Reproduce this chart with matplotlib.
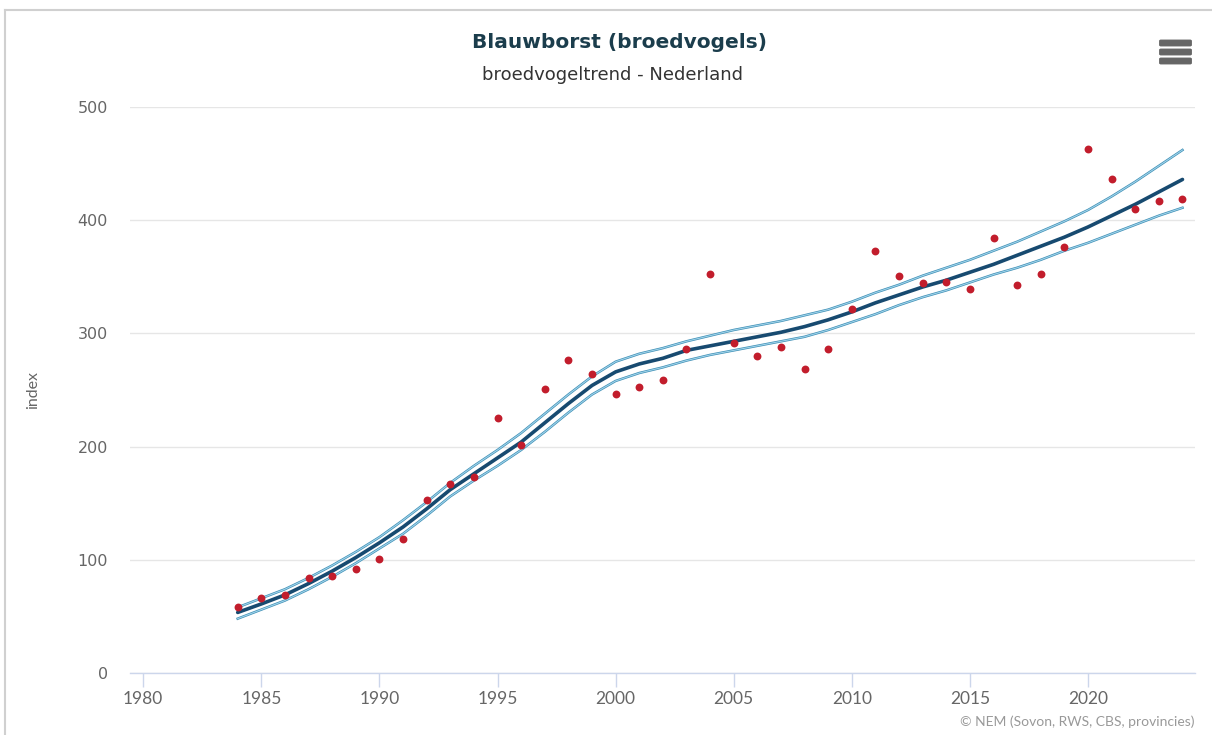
import numpy as np
import matplotlib
matplotlib.use("Agg")
import matplotlib.pyplot as plt
from matplotlib.lines import Line2D
from matplotlib.patches import FancyBboxPatch

plt.rcParams['font.family'] = ['Lato', 'DejaVu Sans']

years = list(range(1984, 2025))

# yearly index values (dots)
index_values = [58.6, 66.5, 68.9, 84.2, 85.7, 92.1, 100.4, 118.1, 153.1, 166.7,
                172.9, 225.5, 201.4, 251.2, 276.8, 264.4, 246.5, 252.7, 259.1, 286.5,
                352.5, 291.2, 280.0, 288.3, 268.8, 286.5, 321.8, 373.0, 350.7, 344.2,
                345.7, 339.5, 384.6, 343.0, 352.5, 376.6, 463.2, 436.1, 409.9, 416.7,
                418.5]

# smoothed trend with its confidence limits
trend = [53.5, 61, 69, 79, 90, 102, 115, 129, 145, 162,
         176, 190, 204, 221, 238, 254, 266, 273, 278, 285,
         289, 293, 297, 301, 306, 312, 319, 327, 334, 341,
         347, 354, 361, 369, 377, 385, 394, 404, 414, 425,
         436]
upper = [58, 66, 74, 84, 95, 107, 120, 135, 151, 168,
         183, 197, 212, 229, 246, 262, 275, 282, 287, 293,
         298, 303, 307, 311, 316, 321, 328, 336, 343, 351,
         358, 365, 373, 381, 390, 399, 409, 421, 434, 448,
         462]
lower = [48, 56, 64, 74, 85, 97, 110, 123, 139, 156,
         170, 183, 197, 213, 230, 246, 258, 265, 270, 276,
         281, 285, 289, 293, 297, 303, 310, 317, 325, 332,
         338, 345, 352, 358, 365, 373, 380, 388, 396, 404,
         411]

x_ticks = list(range(1980, 2025, 5))
y_ticks = [0, 100, 200, 300, 400, 500]

W, H = 1212, 735
fig = plt.figure(figsize=(W / 100, H / 100), dpi=100)

# card border (top and left edge)
fig.add_artist(Line2D([5 / W, 1], [1 - 10 / H, 1 - 10 / H], color='#d0d0d0', lw=1.5))
fig.add_artist(Line2D([5 / W, 5 / W], [0, 1 - 10 / H], color='#d0d0d0', lw=1.5))

ax = fig.add_axes([130 / W, (H - 673) / H, (1195 - 130) / W, (673 - 107) / H])

for band in (upper, lower):
    ax.plot(years, band, color='#3f8fb5', lw=1.8, zorder=3)
    ax.plot(years, band, color='#9fd3ea', lw=0.8, zorder=3)
ax.plot(years, trend, color='#174a70', lw=2.6, zorder=4, solid_capstyle='round')
ax.scatter(years, index_values, s=32, color='#c21d2c', zorder=5, linewidths=0)

ax.set_xlim(1979.44, 2024.53)
ax.set_ylim(0, 500)
ax.set_xticks(x_ticks)
ax.set_yticks(y_ticks)
ax.grid(axis='y', color='#e6e6e6', lw=1)
ax.set_axisbelow(True)

for side in ['top', 'right', 'left']:
    ax.spines[side].set_visible(False)
ax.spines['bottom'].set_color('#ccd6eb')
ax.spines['bottom'].set_linewidth(1)

ax.tick_params(axis='x', direction='out', length=10, width=1, color='#ccd6eb',
               labelcolor='#666666', labelsize=12.5, pad=3)
ax.tick_params(axis='y', length=0, labelcolor='#666666', labelsize=11.5, pad=16)
for lbl in ax.get_yticklabels():
    lbl.set_fontfamily(['DejaVu Sans'])

ax.set_ylabel('index', color='#666666', fontsize=11.5)
ax.yaxis.set_label_coords(-90 / (1195 - 130), 0.5)

fig.text(620 / W, 1 - 43 / H, 'Blauwborst (broedvogels)', ha='center', va='center',
         fontsize=14.5, fontweight='bold', color='#1b3d4c', family=['DejaVu Sans'])
fig.text(612 / W, 1 - 75 / H, 'broedvogeltrend - Nederland', ha='center', va='center',
         fontsize=13, color='#333333', family=['DejaVu Sans'])
fig.text(1195 / W, 1 - 722 / H, '\u00a9 NEM (Sovon, RWS, CBS, provincies)', ha='right',
         va='center', fontsize=10, color='#999999')

# menu button
for yb in [43, 52, 61]:
    fig.add_artist(FancyBboxPatch((1161 / W, 1 - (yb + 2) / H), 29 / W, 4 / H,
                                  boxstyle='round,pad=0.001', color='#666666',
                                  transform=fig.transFigure))

fig.savefig('out.png', dpi=100, facecolor='white')
